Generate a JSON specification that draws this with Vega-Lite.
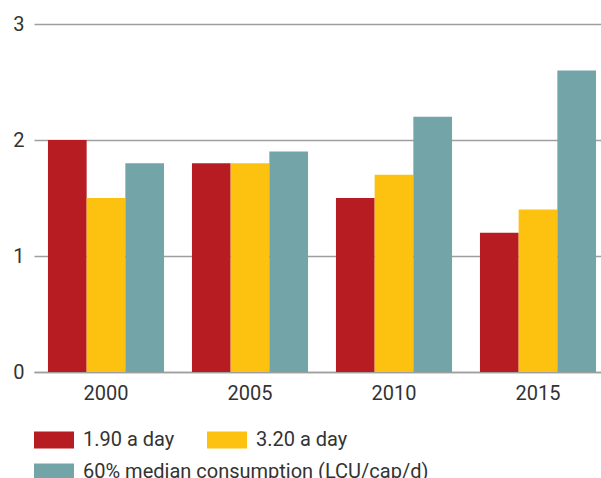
{
  "$schema": "https://vega.github.io/schema/vega-lite/v6.json",
  "width": 576,
  "height": 348,
  "autosize": {"type": "none"},
  "padding": {"left": 34, "top": 24, "right": 0, "bottom": 106},
  "config": {
    "view": {"stroke": null},
    "font": "Roboto",
    "legend": {
      "title": null,
      "orient": "none",
      "direction": "horizontal",
      "columns": 2,
      "padding": 0,
      "symbolType": "M-1,-0.425H1V0.425H-1Z",
      "symbolSize": 1600,
      "symbolStrokeWidth": 0,
      "symbolOpacity": 1,
      "labelFontSize": 20,
      "labelColor": "#333333",
      "labelOffset": 9,
      "labelLimit": 0,
      "columnPadding": 32
    }
  },
  "data": {
    "values": [
      {"year": "2000", "series": "1.90 a day", "value": 2.0},
      {"year": "2000", "series": "3.20 a day", "value": 1.5},
      {"year": "2000", "series": "60% median consumption (LCU/cap/d)", "value": 1.8},
      {"year": "2005", "series": "1.90 a day", "value": 1.8},
      {"year": "2005", "series": "3.20 a day", "value": 1.8},
      {"year": "2005", "series": "60% median consumption (LCU/cap/d)", "value": 1.9},
      {"year": "2010", "series": "1.90 a day", "value": 1.5},
      {"year": "2010", "series": "3.20 a day", "value": 1.7},
      {"year": "2010", "series": "60% median consumption (LCU/cap/d)", "value": 2.2},
      {"year": "2015", "series": "1.90 a day", "value": 1.2},
      {"year": "2015", "series": "3.20 a day", "value": 1.4},
      {"year": "2015", "series": "60% median consumption (LCU/cap/d)", "value": 2.6}
    ]
  },
  "encoding": {
    "x": {
      "field": "year",
      "type": "nominal",
      "scale": {"paddingInner": 0.194, "paddingOuter": 0.097},
      "axis": {
        "title": null,
        "labelAngle": 0,
        "ticks": false,
        "domainColor": "#9e9e9e",
        "domainWidth": 1.5,
        "labelFontSize": 20,
        "labelColor": "#333333",
        "labelPadding": 11
      }
    },
    "xOffset": {
      "field": "series",
      "type": "nominal",
      "scale": {"domain": ["1.90 a day", "3.20 a day", "60% median consumption (LCU/cap/d)"]}
    },
    "y": {
      "field": "value",
      "type": "quantitative",
      "scale": {"domain": [0, 3]},
      "axis": {
        "title": null,
        "values": [0, 1, 2, 3],
        "domain": false,
        "ticks": false,
        "gridColor": "#9e9e9e",
        "gridWidth": 1.5,
        "labelPadding": 10,
        "labelFontSize": 20,
        "labelColor": "#333333"
      }
    }
  },
  "layer": [
    {
      "transform": [{"filter": {"field": "series", "oneOf": ["1.90 a day", "3.20 a day"]}}],
      "mark": {"type": "bar"},
      "encoding": {
        "color": {
          "field": "series",
          "type": "nominal",
          "scale": {"domain": ["1.90 a day", "3.20 a day"], "range": ["#b81c23", "#fdc210"]},
          "legend": {"legendX": 0, "legendY": 396}
        }
      }
    },
    {
      "transform": [{"filter": {"field": "series", "equal": "60% median consumption (LCU/cap/d)"}}],
      "mark": {"type": "bar"},
      "encoding": {
        "color": {
          "field": "series",
          "type": "nominal",
          "scale": {"domain": ["60% median consumption (LCU/cap/d)"], "range": ["#72a4a8"]},
          "legend": {"legendX": 0, "legendY": 428}
        }
      }
    }
  ],
  "resolve": {"scale": {"color": "independent"}, "legend": {"color": "independent"}}
}
